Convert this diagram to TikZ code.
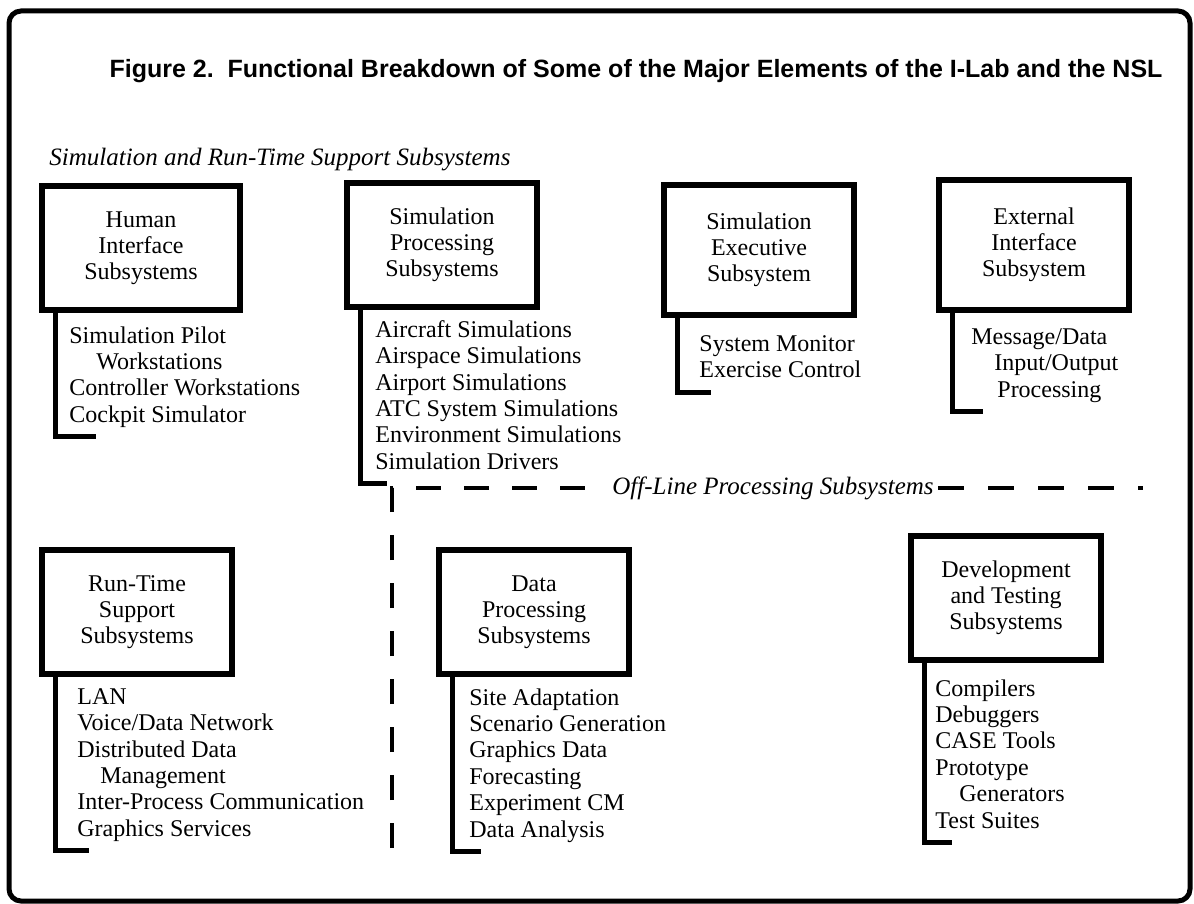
\documentclass[tikz,border=0pt]{standalone}
\usepackage{fontspec}
\setmainfont{Liberation Serif}
\newfontfamily\headfont{Liberation Sans}
\usetikzlibrary{positioning}

\def\boxlw{3pt}

\begin{document}
\begin{tikzpicture}[x=0.5pt,y=-0.5pt]
  \tikzstyle{subsys}=[draw,line width=\boxlw,minimum width=95pt,minimum height=62pt,align=center,font=\fontsize{12}{13}\selectfont]
  \tikzstyle{items}=[anchor=north west,inner sep=0pt,align=left,font=\fontsize{12}{13.2}\selectfont,execute at begin node=\strut,execute at end node=\strut]
  \tikzstyle{bar}=[line width=2.5pt]
  \tikzstyle{sep}=[line width=1.6pt,dash pattern=on 12.5pt off 11.5pt]
  \tikzstyle{group}=[font=\itshape\fontsize{12.5}{14}\selectfont,inner sep=2pt]

  \useasboundingbox (0,0) rectangle (1194,904);

  % Outer frame and headings
  \draw[line width=2.5pt,rounded corners=6pt] (9,11) rectangle (1190,901);
  \node[font=\headfont\bfseries\fontsize{12.5}{14}\selectfont] (title) at (636,71)
    {Figure 2.\ \ Functional Breakdown of Some of the Major Elements of the I-Lab and the NSL};
  \node[group,anchor=west] (online) at (45,160) {Simulation and Run-Time Support Subsystems};

  % Draw the subsystem boxes
  \node[subsys,minimum width=99pt] (HI) at (141,248) {Human\\Interface\\Subsystems};
  \node[subsys] (SP) at (442,245) {Simulation\\Processing\\Subsystems};
  \node[subsys,minimum height=65pt] (SE) at (759,250) {Simulation\\Executive\\Subsystem};
  \node[subsys,minimum height=65pt] (EI) at (1034,245) {External\\Interface\\Subsystem};
  \node[subsys] (RT) at (137,612) {Run-Time\\Support\\Subsystems};
  \node[subsys] (DP) at (534,612) {Data\\Processing\\Subsystems};
  \node[subsys] (DT) at (1006,598) {Development\\and Testing\\Subsystems};

  % Draw the lists under each box
  \node[items,below right=6.5pt and 15pt of HI.south west] (HIl)
    {Simulation Pilot\\\hspace*{13.5pt}Workstations\\Controller Workstations\\Cockpit Simulator};
  \node[items,below right=5pt and 15.5pt of SP.south west] (SPl)
    {Aircraft Simulations\\Airspace Simulations\\Airport Simulations\\ATC System Simulations\\Environment Simulations\\Simulation Drivers};
  \node[items,below right=8.5pt and 19pt of SE.south west] (SEl)
    {System Monitor\\Exercise Control};
  \node[items,below right=7.5pt and 17.5pt of EI.south west] (EIl)
    {Message/Data\\\hspace*{11.5pt}Input/Output\\\hspace*{13pt}Processing};
  \node[items,below right=5.5pt and 19pt of RT.south west] (RTl)
    {LAN\\Voice/Data Network\\Distributed Data\\\hspace*{11.5pt}Management\\Inter-Process Communication\\Graphics Services};
  \node[items,below right=5.5pt and 16.5pt of DP.south west] (DPl)
    {Site Adaptation\\Scenario Generation\\Graphics Data\\Forecasting\\Experiment CM\\Data Analysis};
  \node[items,below right=8pt and 13.5pt of DT.south west] (DTl)
    {Compilers\\Debuggers\\CASE Tools\\Prototype\\\hspace*{12pt}Generators\\Test Suites};

  % Connect every box with its list
  \foreach \name / \ext in {HI/13.5pt,SP/6pt,SE/6pt,EI/6pt,RT/6pt,DP/6pt,DT/8.5pt}
      \draw[bar] ([xshift=8pt]\name.south west) |- ([yshift=-3pt]\name l.south west) -- ++(\ext,0);

  % Off-line part, set apart by a dashed line
  \coordinate (corner) at (392,488);
  \coordinate (vend) at (392,848);
  \coordinate (hend) at (1143,488);
  \node[group] (offline) at (773,488) {Off-Line Processing Subsystems};
  \draw[sep] (vend) -- (corner) -- (offline.west);
  \draw[sep,dash pattern=on 13pt off 12pt] (offline.east) -- (hend);
\end{tikzpicture}
\end{document}
